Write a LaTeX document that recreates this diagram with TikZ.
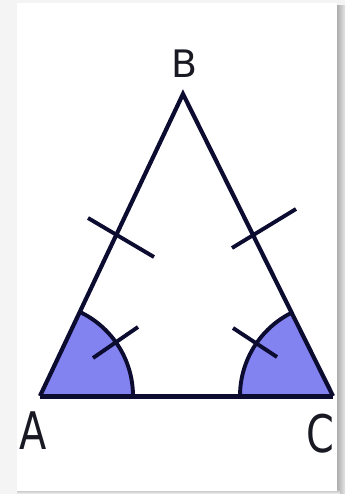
\documentclass[tikz,border=0pt]{standalone}
\usepackage{fontspec}
\setmainfont{DejaVu Sans}
\usetikzlibrary{calc}
\begin{document}
\begin{tikzpicture}[x=1bp,y=-1bp,
  edge/.style={line width=4.2bp,draw=navy,line join=miter},
  tick/.style={line width=3.9bp,draw=navy},
  lab/.style={text=labc,inner sep=0pt,font=\fontsize{40}{40}\selectfont}]
\definecolor{navy}{RGB}{12,12,48}
\definecolor{fillc}{RGB}{130,130,240}
\definecolor{labc}{RGB}{25,25,35}
\definecolor{outer}{RGB}{244,244,244}
\useasboundingbox (0,0) rectangle (345,494);
\fill[outer] (0,0) rectangle (345,494);
\shade[left color=gray!70,right color=gray!20] (336,6) rectangle (345,494);
\shade[top color=gray!50,bottom color=outer] (17,490) rectangle (340,494);
\fill[white] (17,3) rectangle (337,491);
\coordinate (A) at (40,396);
\coordinate (B) at (183,94);
\coordinate (C) at (333,396);
% angle sectors
\fill[fillc] (A) -- ++(0:93) arc[start angle=0,end angle=-64.7,radius=93] -- cycle;
\fill[fillc] (C) -- ++(180:93) arc[start angle=180,end angle=243.6,radius=93] -- cycle;
\draw[tick] ($(A)+(0:93)$) arc[start angle=0,end angle=-64.7,radius=93];
\draw[tick] ($(C)+(180:93)$) arc[start angle=180,end angle=243.6,radius=93];
% triangle
\draw[edge] (A) -- (B) -- (C);
\draw[line width=5bp,draw=navy] (A) -- (C);
% side ticks
\coordinate (t1a) at (88,218); \coordinate (t1b) at (154,257);
\coordinate (t2a) at (232,248); \coordinate (t2b) at (296,209);
\draw[tick] (t1a) -- (t1b);
\draw[tick] (t2a) -- (t2b);
% arc ticks
\coordinate (t3a) at (93,358); \coordinate (t3b) at (138,327);
\coordinate (t4a) at (233,328); \coordinate (t4b) at (277,357);
\draw[tick] (t3a) -- (t3b);
\draw[tick] (t4a) -- (t4b);
% labels
\node[lab,font=\fontsize{38}{38}\selectfont] (lB) at (184,64) {B};
\node[lab,yscale=1.3] (lA) at (33,431) {A};
\node[lab,yscale=1.3] (lC) at (320,434) {C};
\end{tikzpicture}
\end{document}
